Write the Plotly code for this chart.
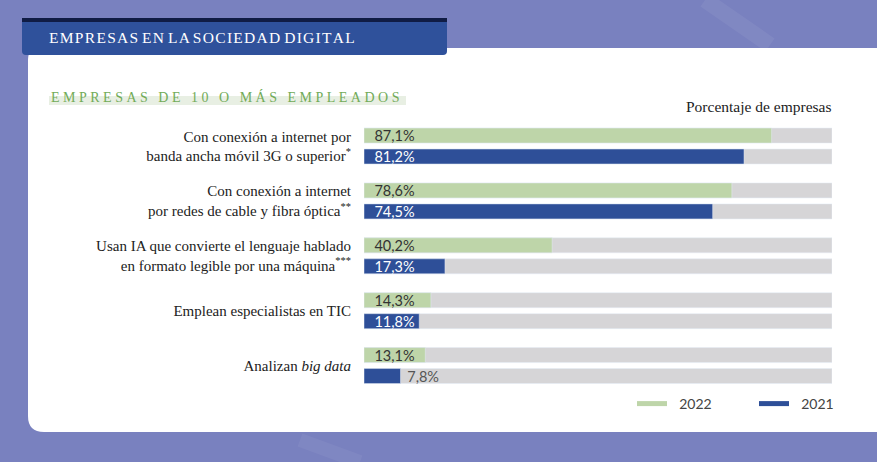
import plotly.graph_objects as go

W, H = 877, 462

categories = [
    "Con conexión a internet por<br>banda ancha móvil 3G o superior<sup>*</sup>",
    "Con conexión a internet<br>por redes de cable y fibra óptica<sup>**</sup>",
    "Usan IA que convierte el lenguaje hablado<br>en formato legible por una máquina<sup>***</sup>",
    "Emplean especialistas en TIC",
    "Analizan <i>big data</i>",
]
v2022 = [87.1, 78.6, 40.2, 14.3, 13.1]
v2021 = [81.2, 74.5, 17.3, 11.8, 7.8]
full = [100] * len(categories)

GREEN = "#bed5a9"
BLUE = "#2e4f98"
GRAY = "#d6d5d7"
BG = "#7981bf"
SERIF = "Liberation Serif"
SANS = "Lato"


def px(x):
    return x / W


def py(y):
    return 1 - y / H


def pct(v, pad=2):
    return "\u00a0" * pad + f"{v:.1f}".replace(".", ",") + "%"


def spaced(s, sep, gap):
    return gap.join(sep.join(w) for w in s.split(" "))


fig = go.Figure()

# gray tracks
fig.add_trace(go.Bar(y=categories, x=full, orientation="h", offsetgroup="a",
                     marker=dict(color=GRAY), hoverinfo="skip", showlegend=False))
fig.add_trace(go.Bar(y=categories, x=full, orientation="h", offsetgroup="b",
                     marker=dict(color=GRAY), hoverinfo="skip", showlegend=False))

# values
fig.add_trace(go.Bar(
    y=categories, x=v2022, orientation="h", offsetgroup="a", name="2022",
    marker=dict(color=GREEN, cornerradius=8),
    text=[pct(v) for v in v2022], textposition="inside", insidetextanchor="start",
    insidetextfont=dict(family=SANS, size=14.5, color="#333333"),
    constraintext="none", showlegend=False,
))
fig.add_trace(go.Bar(
    y=categories, x=v2021, orientation="h", offsetgroup="b", name="2021",
    marker=dict(color=BLUE, cornerradius=8),
    text=[pct(v) if v > 10 else pct(v, 1) for v in v2021],
    textposition=["inside" if v > 10 else "outside" for v in v2021],
    insidetextanchor="start",
    insidetextfont=dict(family=SANS, size=14.5, color="white"),
    outsidetextfont=dict(family=SANS, size=14.5, color="#555555"),
    constraintext="none", cliponaxis=False, showlegend=False,
))

# legend entries drawn as short lines
fig.add_trace(go.Scatter(x=[None], y=[None], mode="lines", name="\u00a0\u00a02022",
                         line=dict(color=GREEN, width=5)))
fig.add_trace(go.Scatter(x=[None], y=[None], mode="lines", name="\u00a0\u00a02021",
                         line=dict(color=BLUE, width=5)))

# ============ BACKGROUND SHAPES ================
card = (f"M {px(28)},{py(60)} Q {px(28)},{py(48)} {px(40)},{py(48)} "
        f"L {px(877)},{py(48)} L {px(877)},{py(432)} L {px(44)},{py(432)} "
        f"Q {px(28)},{py(432)} {px(28)},{py(416)} Z")
header = (f"M {px(22)},{py(18)} L {px(447)},{py(18)} L {px(447)},{py(51)} "
          f"Q {px(447)},{py(55)} {px(443)},{py(55)} L {px(26)},{py(55)} "
          f"Q {px(22)},{py(55)} {px(22)},{py(51)} Z")
shapes = [
    dict(type="line", xref="paper", yref="paper", x0=px(705), y0=py(0), x1=px(770), y1=py(45),
         line=dict(color="rgba(255,255,255,0.06)", width=16), layer="below"),
    dict(type="line", xref="paper", yref="paper", x0=px(300), y0=py(440), x1=px(360), y1=py(462),
         line=dict(color="rgba(255,255,255,0.05)", width=14), layer="below"),
    dict(type="path", path=card, xref="paper", yref="paper",
         fillcolor="white", line=dict(width=0), layer="below"),
    dict(type="path", path=header, xref="paper", yref="paper",
         fillcolor="#2f519b", line=dict(width=0), layer="below"),
    dict(type="rect", xref="paper", yref="paper", x0=px(22), x1=px(447), y0=py(22), y1=py(18),
         fillcolor="#101c44", line=dict(width=0), layer="below"),
    dict(type="rect", xref="paper", yref="paper", x0=px(49), x1=px(406), y0=py(105), y1=py(96),
         fillcolor="#e8efe3", line=dict(width=0), layer="below"),
]

annotations = [
    dict(text=spaced("EMPRESAS EN LA SOCIEDAD DIGITAL", "\u200a", " "), xref="paper", yref="paper",
         x=px(47), y=py(37), xanchor="left", yanchor="middle", showarrow=False,
         font=dict(family=SERIF, size=15.5, color="white")),
    dict(text=spaced("EMPRESAS DE 10 O MÁS EMPLEADOS", "\u00a0", "\u00a0\u00a0\u00a0"),
         xref="paper", yref="paper",
         x=px(49), y=py(97), xanchor="left", yanchor="middle", showarrow=False,
         font=dict(family=SERIF, size=14, color="#72ab58")),
    dict(text="Porcentaje de empresas", xref="paper", yref="paper",
         x=px(833), y=py(106), xanchor="right", yanchor="middle", showarrow=False,
         font=dict(family=SERIF, size=15.5, color="#222222")),
]

fig.update_layout(
    width=W, height=H,
    margin=dict(l=0, r=0, t=0, b=0),
    paper_bgcolor=BG, plot_bgcolor="rgba(0,0,0,0)",
    barmode="group", bargap=0.236, bargroupgap=0.286,
    shapes=shapes, annotations=annotations,
    xaxis=dict(domain=[px(364), px(832)], range=[0, 100], visible=False, fixedrange=True),
    yaxis=dict(domain=[py(393), py(118.6)], autorange="reversed", showgrid=False,
               showline=False, ticks="", ticklabelstandoff=12, automargin=False,
               tickfont=dict(family=SERIF, size=15, color="#222222")),
    legend=dict(orientation="h", xanchor="right", x=px(876), yanchor="middle", y=py(404),
                bgcolor="rgba(0,0,0,0)", font=dict(family=SANS, size=14, color="#444444"),
                entrywidth=77, itemwidth=30),
)

fig.write_html("out.html", config={"displayModeBar": False},
               post_script="document.body.style.margin='0px';")
